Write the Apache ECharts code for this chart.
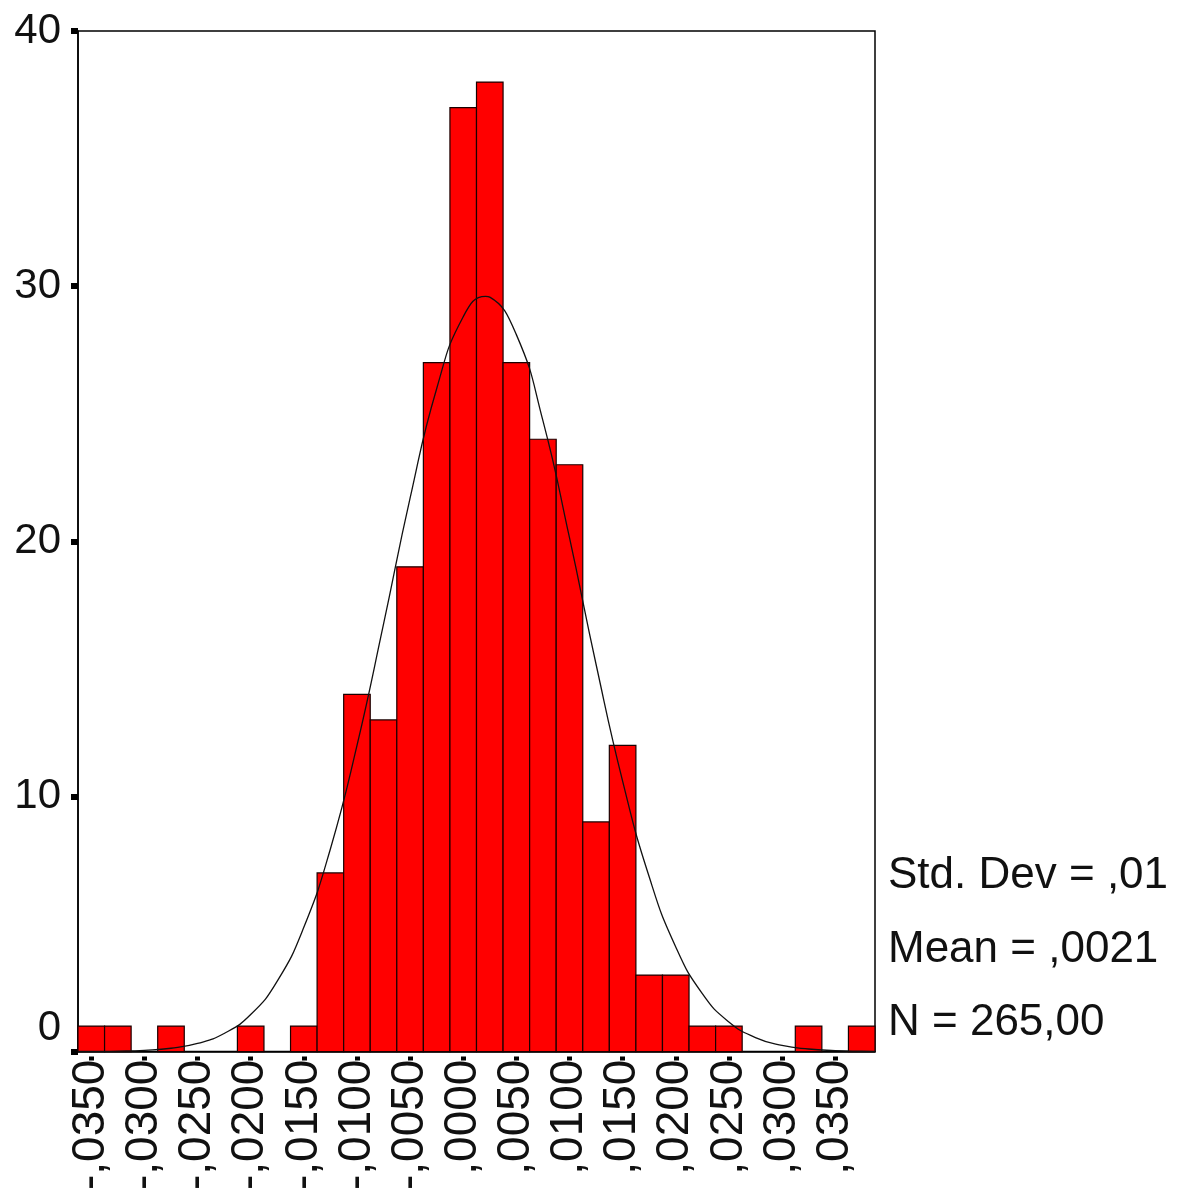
<!DOCTYPE html>
<html><head><meta charset="utf-8">
<script src="https://cdn.jsdelivr.net/npm/echarts@6/dist/echarts.min.js"></script>
<style>html,body{margin:0;padding:0;background:#fff}#c{width:1180px;height:1193px}</style>
</head><body><div id="c"></div>
<script>
// Histogram bins (centre of each 0.0025-wide bin) and counts
const binCenters = [-0.035, -0.0325, -0.030, -0.0275, -0.025, -0.0225, -0.020, -0.0175, -0.015, -0.0125,
                    -0.010, -0.0075, -0.005, -0.0025, 0.000, 0.0025, 0.005, 0.0075, 0.010, 0.0125,
                    0.015, 0.0175, 0.020, 0.0225, 0.025, 0.0275, 0.030, 0.0325, 0.035, 0.0375];
const counts = [1, 1, 0, 1, 0, 0, 1, 0, 1, 7,
                14, 13, 19, 27, 37, 38, 27, 24, 23, 9,
                12, 3, 3, 1, 1, 0, 0, 1, 0, 1];
const binWidth = 0.0025;
const xMin = -0.03625;
const xMax = 0.03875;

// Tick positions of the x axis
const xTicks = [-0.035, -0.030, -0.025, -0.020, -0.015, -0.010, -0.005, 0.000,
                0.005, 0.010, 0.015, 0.020, 0.025, 0.030, 0.035];
const yTicks = [0, 10, 20, 30, 40];

// Normal curve overlay
const curveX = [-0.03625, -0.035, -0.0325, -0.030, -0.0275, -0.025, -0.0225, -0.020, -0.0175, -0.015,
                -0.0125, -0.010, -0.0075, -0.005, -0.0025, 0.000, 0.0021, 0.0025, 0.005, 0.0075,
                0.010, 0.0125, 0.015, 0.0175, 0.020, 0.0225, 0.025, 0.0275, 0.030, 0.0325,
                0.035, 0.0375, 0.03875];
const curveY = [0.003, 0.006, 0.018, 0.05, 0.13, 0.32, 0.71, 1.45, 2.76, 4.87,
                7.94, 11.99, 16.75, 21.69, 25.98, 28.80, 29.6, 29.57, 28.10, 24.73,
                20.14, 15.18, 10.60, 6.85, 4.10, 2.27, 1.16, 0.55, 0.24, 0.10,
                0.04, 0.013, 0.007];

const statLines = ['Std. Dev = ,01', 'Mean = ,0021', 'N = 265,00'];

const FONT = "'Liberation Sans', Arial, sans-serif";

function fmtX(v) {
  const a = Math.round(Math.abs(v) * 10000);
  return (v < 0 ? '-' : '') + ',' + String(a).padStart(4, '0');
}

const chart = echarts.init(document.getElementById('c'), null, {renderer: 'canvas'});
const statY = [876, 950, 1023];

chart.setOption({
  animation: false,
  backgroundColor: '#fff',
  textStyle: {fontFamily: FONT},
  grid: {left: 78, right: 305, top: 31, bottom: 140, show: true, borderColor: '#000', borderWidth: 1.5, backgroundColor: 'transparent'},
  xAxis: [
    {
      type: 'value', min: xMin, max: xMax, position: 'bottom',
      axisLine: {show: true, onZero: false, lineStyle: {color: '#000', width: 1.5}},
      axisTick: {show: false}, axisLabel: {show: false}, splitLine: {show: false}
    },
    {
      type: 'value', min: xMin, max: xMax, position: 'bottom', offset: 5,
      axisLine: {show: false, onZero: false},
      axisTick: {show: true, customValues: xTicks, length: 4, lineStyle: {color: '#000', width: 5}},
      axisLabel: {show: true, customValues: xTicks, rotate: 90, margin: 3, fontSize: 46, color: '#111', fontFamily: FONT, formatter: fmtX},
      splitLine: {show: false}
    }
  ],
  yAxis: {
    type: 'value', min: 0, max: 40, interval: 10, position: 'left',
    axisLine: {show: true, onZero: false, lineStyle: {color: '#000', width: 1.5}},
    axisTick: {show: true, length: 7, lineStyle: {color: '#000', width: 6}},
    axisLabel: {
      show: true, margin: 17, fontSize: 42, color: '#111', fontFamily: FONT,
      customValues: yTicks,
      formatter: function (v) { return v === 0 ? '{z|0}' : String(v); },
      rich: {z: {fontSize: 42, fontFamily: FONT, color: '#111', padding: [0, 0, 46, 0]}}
    },
    splitLine: {show: false}
  },
  series: [
    {
      type: 'custom', xAxisIndex: 0, yAxisIndex: 0, z: 2,
      data: binCenters.map((c, i) => [c, counts[i]]),
      encode: {x: 0, y: 1},
      renderItem: function (params, api) {
        const c = api.value(0), n = api.value(1);
        if (!n) return null;
        const p0 = api.coord([c - binWidth / 2, n]);
        const p1 = api.coord([c + binWidth / 2, 0]);
        return {
          type: 'rect',
          shape: {x: p0[0], y: p0[1], width: p1[0] - p0[0], height: p1[1] - p0[1]},
          style: {fill: '#ff0000', stroke: '#1a0000', lineWidth: 1.2}
        };
      }
    },
    {
      type: 'line', xAxisIndex: 0, yAxisIndex: 0, z: 3,
      data: curveX.map((x, i) => [x, curveY[i]]),
      smooth: true, showSymbol: false, symbol: 'none',
      lineStyle: {color: '#111', width: 1.3}
    }
  ],
  graphic: statLines.map((t, i) => ({
    type: 'text', x: 888, y: statY[i], z: 10,
    style: {text: t, font: "44px 'Liberation Sans', Arial, sans-serif", fill: '#111', verticalAlign: 'middle', align: 'left'}
  }))
});
</script>
</body></html>
